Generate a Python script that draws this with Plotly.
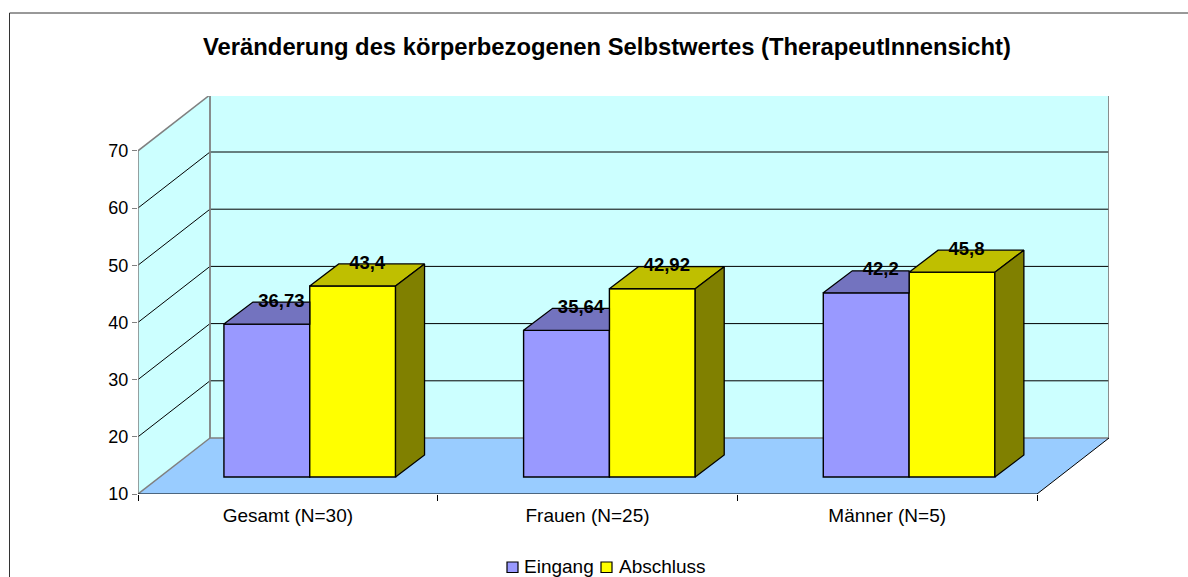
import plotly.graph_objects as go

categories = ["Gesamt (N=30)", "Frauen (N=25)", "Männer (N=5)"]
series_names = ["Eingang", "Abschluss"]
eingang = [36.73, 35.64, 42.2]
abschluss = [43.4, 42.92, 45.8]
eingang_labels = ["36,73", "35,64", "42,2"]
abschluss_labels = ["43,4", "42,92", "45,8"]
y_ticks = [10, 20, 30, 40, 50, 60, 70]
title = "Veränderung des körperbezogenen Selbstwertes (TherapeutInnensicht)"

W, H = 1188, 577
FONT = "Liberation Sans"
PX_X = 299.67          # pixels per category
PX_Y = 5.72            # pixels per value unit
L, R, T, B = 138, 1109, 96, 494

wall_dx, wall_dy = 72 / PX_X, 56 / PX_Y
bar_x0, bar_y0 = 21.9 / PX_X, 17 / PX_Y
bar_dx, bar_dy = 29 / PX_X, 22 / PX_Y
bar_w = 85.8 / PX_X
centers = [i + 0.5 for i in range(len(categories))]
base = y_ticks[0]
EINGANG_COLOR, ABSCHLUSS_COLOR = "#9999FF", "#FFFF00"


def px(x):
    return (x - L) / (R - L)


def py(y):
    return (B - y) / (B - T)


def poly(pts):
    return "M" + " L".join(f"{x},{y}" for x, y in pts) + " Z"


def seg(x0, y0, x1, y1, color="#000000", width=1, layer="below"):
    return dict(type="line", xref="x", yref="y", x0=x0, y0=y0, x1=x1, y1=y1,
                line=dict(color=color, width=width), layer=layer)


GRAY = "#808080"
ymax = y_ticks[-1]
xmax = len(categories)
shapes = [
    dict(type="path", xref="x", yref="y", layer="below", fillcolor="#CCFFFF", line=dict(width=0),
         path=poly([(0, base), (wall_dx, base + wall_dy), (wall_dx, ymax + wall_dy), (0, ymax)])),
    dict(type="path", xref="x", yref="y", layer="below", fillcolor="#CCFFFF", line=dict(width=0),
         path=poly([(wall_dx, base + wall_dy), (wall_dx + xmax, base + wall_dy),
                    (wall_dx + xmax, ymax + wall_dy), (wall_dx, ymax + wall_dy)])),
    dict(type="path", xref="x", yref="y", layer="below", fillcolor="#99CCFF", line=dict(width=0),
         path=poly([(0, base), (xmax, base), (xmax + wall_dx, base + wall_dy), (wall_dx, base + wall_dy)])),
]
for v in y_ticks[1:-1]:
    shapes.append(seg(0, v, wall_dx, v + wall_dy))
    shapes.append(seg(wall_dx, v + wall_dy, wall_dx + xmax, v + wall_dy))
shapes += [
    seg(0, base, 0, ymax, GRAY, 1.5),
    seg(0, ymax, wall_dx, ymax + wall_dy, GRAY, 1.5),
    seg(wall_dx, ymax + wall_dy, wall_dx + xmax, ymax + wall_dy, GRAY, 1.8),
    seg(wall_dx, base + wall_dy, wall_dx, ymax + wall_dy, GRAY, 1.8),
    seg(wall_dx + xmax, base + wall_dy, wall_dx + xmax, ymax + wall_dy, GRAY, 1.8),
    seg(wall_dx, base + wall_dy, wall_dx + xmax, base + wall_dy, GRAY, 1.5),
    seg(0, base, wall_dx, base + wall_dy, GRAY, 1.5),
    seg(xmax, base, xmax + wall_dx, base + wall_dy, "#000000", 1),
    seg(0, base, xmax, base, "#000000", 1.2),
    dict(type="line", xref="paper", yref="paper", x0=px(9.5), x1=px(9.5), y0=py(H), y1=py(13),
         line=dict(color="#333333", width=1)),
    dict(type="line", xref="paper", yref="paper", x0=px(9.5), x1=px(W), y0=py(13), y1=py(13),
         line=dict(color="#333333", width=1)),
]

# legend key
annotations = []
for name, color, sx0, sx1, tx in zip(series_names, [EINGANG_COLOR, ABSCHLUSS_COLOR],
                                     [507, 601], [518, 612], [522, 616.5]):
    shapes.append(dict(type="rect", xref="paper", yref="paper", x0=px(sx0), x1=px(sx1), y0=py(572.5), y1=py(562),
                       fillcolor=color, line=dict(color="#000000", width=1.2)))
    annotations.append(dict(text=name, xref="paper", yref="paper", x=px(tx), y=py(566), xanchor="left",
                            yanchor="middle", showarrow=False,
                            font=dict(family=FONT, size=19, color="#000000")))

fig = go.Figure()
xs = [c + bar_x0 for c in centers]
fig.add_bar(name=series_names[0], x=xs, y=[v - base for v in eingang], base=base + bar_y0,
            width=bar_w, offset=-bar_w, marker=dict(color=EINGANG_COLOR, line=dict(color="#000000", width=1.4)),
            hoverinfo="skip", showlegend=False)
fig.add_bar(name=series_names[1], x=xs, y=[v - base for v in abschluss], base=base + bar_y0,
            width=bar_w, offset=0, marker=dict(color=ABSCHLUSS_COLOR, line=dict(color="#000000", width=1.4)),
            hoverinfo="skip", showlegend=False)


def face(pts, color):
    fig.add_scatter(x=[p[0] for p in pts] + [pts[0][0]], y=[p[1] for p in pts] + [pts[0][1]],
                    mode="lines", fill="toself", fillcolor=color,
                    line=dict(color="#000000", width=1.3), showlegend=False, hoverinfo="skip")


for x, v in zip(xs, eingang):
    y = v + bar_y0
    x0 = x - bar_w
    face([(x0, y), (x, y), (x, y + bar_dy), (x0 + bar_dx, y + bar_dy)], "#7373BF")
for x, v in zip(xs, abschluss):
    y = v + bar_y0
    x1 = x + bar_w
    face([(x, y), (x1, y), (x1 + bar_dx, y + bar_dy), (x + bar_dx, y + bar_dy)], "#BFBF00")
    face([(x1, base + bar_y0), (x1 + bar_dx, base + bar_y0 + bar_dy), (x1 + bar_dx, y + bar_dy), (x1, y)], "#808000")

lab_dx = bar_dx / 2
fig.add_scatter(x=[x - bar_w / 2 + lab_dx for x in xs] + [x + bar_w / 2 + lab_dx for x in xs],
                y=[v + bar_y0 + bar_dy for v in eingang] + [v + bar_y0 + bar_dy for v in abschluss],
                mode="text", text=eingang_labels + abschluss_labels, textposition="middle center",
                textfont=dict(family=FONT, size=18.5, color="#000000", weight=700),
                showlegend=False, hoverinfo="skip", cliponaxis=False)

fig.update_layout(
    width=W, height=H, margin=dict(l=L, r=W - R, t=T, b=H - B, pad=0), autosize=False,
    paper_bgcolor="#FFFFFF", plot_bgcolor="rgba(0,0,0,0)", barmode="overlay", showlegend=False,
    font=dict(family=FONT, color="#000000", size=18),
    title=dict(text=title, x=607 / W, y=1 - 47 / H, xanchor="center", yanchor="middle",
               font=dict(family=FONT, size=23.8, color="#000000", weight=700)),
    shapes=shapes, annotations=annotations,
    xaxis=dict(range=[0, (R - L) / PX_X], showgrid=False, zeroline=False,
               showline=False, tickmode="array", tickvals=centers, ticktext=categories,
               ticks="outside", ticklen=6, tickcolor="rgba(0,0,0,0)", ticklabelstandoff=-2,
               minor=dict(tickmode="array", tickvals=list(range(xmax + 1)), ticks="outside",
                          ticklen=6, tickcolor="#000000", tickwidth=1),
               tickfont=dict(family=FONT, size=19, color="#000000")),
    yaxis=dict(range=[base, base + (B - T) / PX_Y], showgrid=False,
               zeroline=False, showline=False, tickmode="array", tickvals=y_ticks,
               ticks="outside", ticklen=5, tickcolor=GRAY, tickwidth=1,
               tickfont=dict(family=FONT, size=18, color="#000000")),
)
fig.write_html("out.html", config={"displayModeBar": False},
               post_script='document.body.style.margin="0";document.documentElement.style.overflow="hidden";')
